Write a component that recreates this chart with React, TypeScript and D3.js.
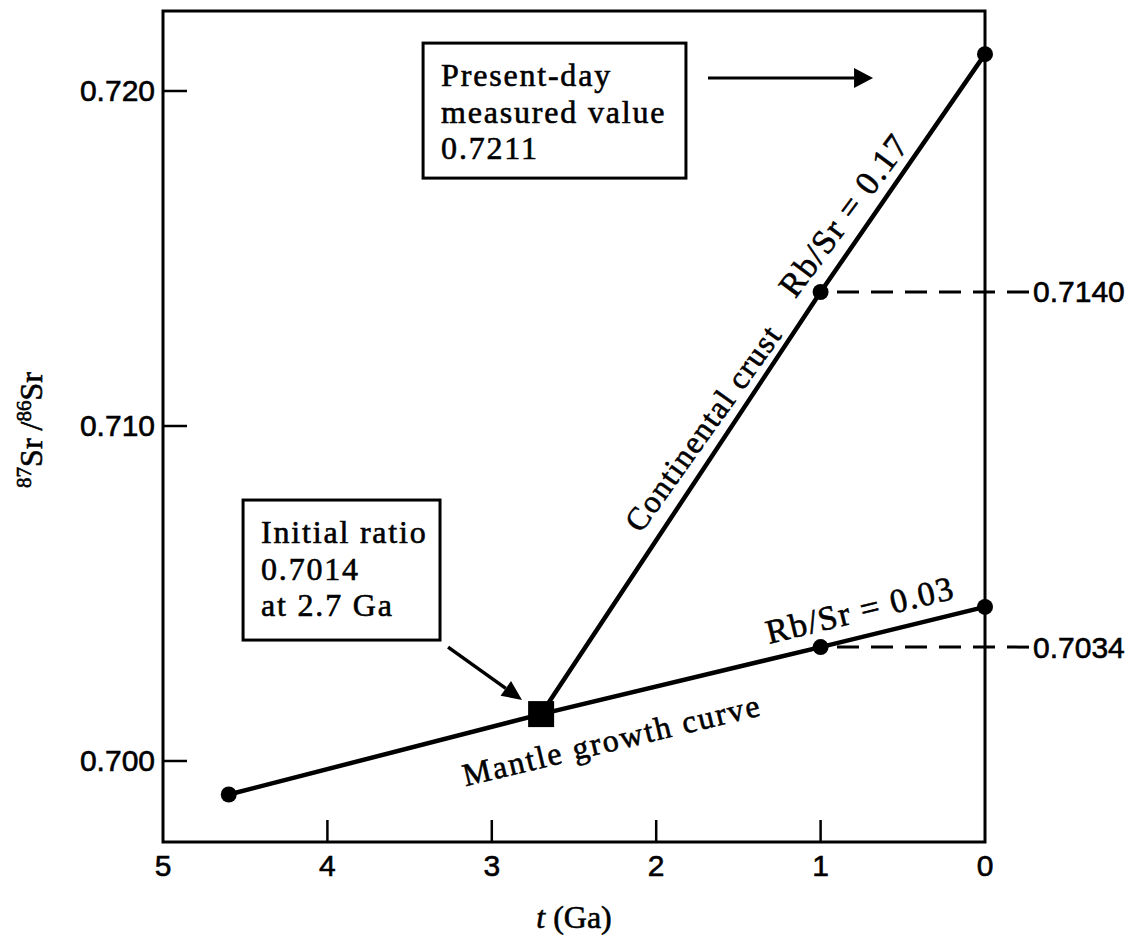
import React from "react";
import * as d3 from "d3";

// ---- data ----
const mantleAges = [4.6, 2.7, 1, 0];
const mantleRatios = [0.699, 0.7014, 0.7034, 0.7046];
const crustAges = [2.7, 1, 0];
const crustRatios = [0.7014, 0.714, 0.7211];
const xTickValues = [5, 4, 3, 2, 1, 0];
const yTickValues = [0.7, 0.71, 0.72];
const yTickLabels = ["0.700", "0.710", "0.720"];
const refLines = [
  { t: 1, v: 0.714, label: "0.7140" },
  { t: 1, v: 0.7034, label: "0.7034" },
];
const presentBoxLines = ["Present-day", "measured value", "0.7211"];
const initialBoxLines = ["Initial ratio", "0.7014", "at 2.7 Ga"];

const W = 1136;
const H = 939;
const plot = { left: 163, right: 985, top: 11, bottom: 842 };

const x = d3.scaleLinear().domain([5, 0]).range([plot.left, plot.right]);
const y = d3.scaleLinear().domain([0.697582, 0.722388]).range([plot.bottom, plot.top]);

const serif = "'Liberation Serif', 'Times New Roman', serif";
const sans = "'Liberation Sans', Arial, sans-serif";
const ink = { fill: "#000", stroke: "#000", strokeWidth: 0.6 };

function segAngle(ages: number[], vals: number[], i: number) {
  const dx = x(ages[i + 1]) - x(ages[i]);
  const dy = y(vals[i + 1]) - y(vals[i]);
  return (Math.atan2(dy, dx) * 180) / Math.PI;
}

function Arrow({ t1, v1, t2, v2, head = 20, half = 9, sw = 3.5 }: any) {
  const x1 = x(t1), y1 = y(v1), x2 = x(t2), y2 = y(v2);
  const a = Math.atan2(y2 - y1, x2 - x1);
  const bx = x2 - head * Math.cos(a);
  const by = y2 - head * Math.sin(a);
  const p1 = [bx + half * Math.sin(a), by - half * Math.cos(a)];
  const p2 = [bx - half * Math.sin(a), by + half * Math.cos(a)];
  return (
    <g>
      <line x1={x1} y1={y1} x2={bx} y2={by} stroke="#000" strokeWidth={sw} />
      <polygon points={`${x2},${y2} ${p1[0]},${p1[1]} ${p2[0]},${p2[1]}`} fill="#000" />
    </g>
  );
}

function Box({ t1, v1, t2, v2, lines }: any) {
  const bx = x(t1), by = y(v1), bw = x(t2) - x(t1), bh = y(v2) - y(v1);
  return (
    <g>
      <rect x={bx} y={by} width={bw} height={bh} fill="#fff" stroke="#000" strokeWidth={3} />
      {lines.map((s: string, i: number) => (
        <text
          key={i}
          x={bx + 18}
          y={by + 43 + i * 36.5}
          fontFamily={serif}
          fontSize={32}
          letterSpacing={1.8}
          {...ink}
        >
          {s}
        </text>
      ))}
    </g>
  );
}

function RotLabel({ t, v, angle, text, size = 32, ls = 1.5 }: any) {
  return (
    <text
      transform={`translate(${x(t)},${y(v)}) rotate(${angle})`}
      textAnchor="middle"
      dominantBaseline="central"
      fontFamily={serif}
      fontSize={size}
      letterSpacing={ls}
      {...ink}
    >
      {text}
    </text>
  );
}

export default function App() {
  const pathGen = d3
    .line<[number, number]>()
    .x((d) => x(d[0]))
    .y((d) => y(d[1]));
  const mantlePath = pathGen(mantleAges.map((a, i) => [a, mantleRatios[i]] as [number, number]));
  const crustPath = pathGen(crustAges.map((a, i) => [a, crustRatios[i]] as [number, number]));

  const sq = 26;

  return (
    <svg
      width={W}
      height={H}
      style={{ position: "absolute", left: 0, top: 0, background: "#fff" }}
    >
      <rect x={0} y={0} width={W} height={H} fill="#fff" />
      {/* frame */}
      <rect
        x={plot.left}
        y={plot.top}
        width={plot.right - plot.left}
        height={plot.bottom - plot.top}
        fill="none"
        stroke="#000"
        strokeWidth={3}
      />
      {/* y ticks */}
      {yTickValues.map((v, i) => (
        <g key={"yt" + i}>
          <line x1={plot.left} x2={plot.left + 24} y1={y(v)} y2={y(v)} stroke="#000" strokeWidth={2.5} />
          <text
            x={plot.left - 8}
            y={y(v)}
            textAnchor="end"
            dominantBaseline="central"
            fontFamily={sans}
            fontSize={30}
            {...ink}
          >
            {yTickLabels[i]}
          </text>
        </g>
      ))}
      {/* x ticks */}
      {xTickValues.map((t, i) => (
        <g key={"xt" + i}>
          {t !== 5 && t !== 0 && (
            <line x1={x(t)} x2={x(t)} y1={plot.bottom} y2={plot.bottom - 22} stroke="#000" strokeWidth={2.5} />
          )}
          <text x={x(t)} y={plot.bottom + 34} textAnchor="middle" fontFamily={sans} fontSize={30} {...ink}>
            {t}
          </text>
        </g>
      ))}
      {/* axis titles */}
      <text x={(plot.left + plot.right) / 2} y={928} textAnchor="middle" fontFamily={serif} fontSize={32} {...ink}>
        <tspan fontStyle="italic">t</tspan> (Ga)
      </text>
      <text
        transform={`translate(42,430) rotate(-90)`}
        textAnchor="middle"
        fontFamily={serif}
        fontSize={32}
        {...ink}
      >
        <tspan fontSize={21} dy={-11}>87</tspan>
        <tspan dy={11}>Sr</tspan>
        <tspan> /</tspan>
        <tspan fontSize={21} dy={-11}>86</tspan>
        <tspan dy={11}>Sr</tspan>
      </text>

      {/* reference dashed lines (drawn from label end toward the point) */}
      {refLines.map((r, i) => (
        <g key={"rl" + i}>
          <line
            x1={plot.right + 44}
            x2={x(r.t) + 6}
            y1={y(r.v)}
            y2={y(r.v)}
            stroke="#000"
            strokeWidth={3}
            strokeDasharray="22 12"
          />
          <text
            x={plot.right + 48}
            y={y(r.v)}
            dominantBaseline="central"
            fontFamily={sans}
            fontSize={30}
            {...ink}
          >
            {r.label}
          </text>
        </g>
      ))}

      {/* growth lines */}
      <path d={mantlePath || ""} fill="none" stroke="#000" strokeWidth={4.5} strokeLinejoin="round" />
      <path d={crustPath || ""} fill="none" stroke="#000" strokeWidth={4.5} strokeLinejoin="round" />

      {/* points */}
      {mantleAges.map((a, i) =>
        a === 2.7 ? (
          <rect key={"m" + i} x={x(a) - sq / 2} y={y(mantleRatios[i]) - sq / 2} width={sq} height={sq} fill="#000" />
        ) : (
          <circle key={"m" + i} cx={x(a)} cy={y(mantleRatios[i])} r={8} fill="#000" />
        )
      )}
      {crustAges.map((a, i) =>
        a === 2.7 ? null : <circle key={"c" + i} cx={x(a)} cy={y(crustRatios[i])} r={8} fill="#000" />
      )}

      {/* line labels */}
      <RotLabel t={1.715} v={0.70994} angle={segAngle(crustAges, crustRatios, 0) + 2} text="Continental crust" />
      <RotLabel t={0.86} v={0.7163} angle={segAngle(crustAges, crustRatios, 1) + 2} text="Rb/Sr = 0.17" size={34} ls={1.5} />
      <RotLabel t={0.76} v={0.70451} angle={segAngle(mantleAges, mantleRatios, 2)} text="Rb/Sr = 0.03" size={34} ls={1.5} />
      <RotLabel t={2.27} v={0.70063} angle={segAngle(mantleAges, mantleRatios, 1)} text="Mantle growth curve" size={32} ls={2} />

      {/* annotation boxes */}
      <Box t1={3.418} v1={0.72143} t2={1.819} v2={0.7174} lines={presentBoxLines} />
      <Box t1={4.513} v1={0.70779} t2={3.315} v2={0.70361} lines={initialBoxLines} />

      {/* arrows */}
      <Arrow t1={1.685} v1={0.72039} t2={0.681} v2={0.72039} head={19} half={10} sw={3} />
      <Arrow t1={3.266} v1={0.7034} t2={2.816} v2={0.70182} head={20} half={9} sw={3.5} />
    </svg>
  );
}
